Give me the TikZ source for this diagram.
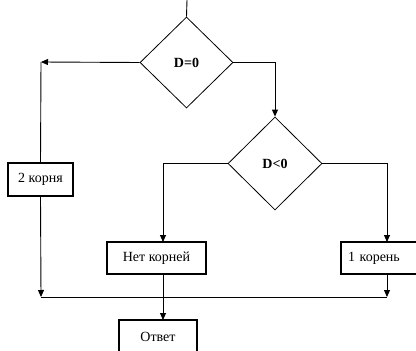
\documentclass[tikz,border=0pt]{standalone}
\usepackage{fontspec}
\setmainfont{Liberation Serif}
\usetikzlibrary{shapes.geometric,arrows.meta}
\begin{document}
\begin{tikzpicture}[x=1pt,y=-1pt,
  cond/.style={draw,diamond,inner sep=0pt,line width=0.8pt,font=\fontsize{14}{16}\selectfont\bfseries},
  blk/.style={draw,rectangle,line width=1.2pt,inner sep=0pt,font=\fontsize{14}{16}\selectfont},
  arr/.style={line width=0.9pt,-{Triangle[length=7pt,width=6pt]}},
  ln/.style={line width=0.9pt}]
\useasboundingbox (0,0) rectangle (416,351);
\node[cond,minimum width=93pt,minimum height=91pt] (d1) at (186.5,62.5) {D=0};
\node[cond,minimum width=94pt,minimum height=93pt] (d2) at (275,163.5) {D<0};
\node[blk,minimum width=65pt,minimum height=33pt] (b2) at (40.5,179.5) {2 корня};
\node[blk,minimum width=99pt,minimum height=32pt] (b0) at (156.5,258) {Нет корней};
\node[blk,minimum width=90pt,minimum height=32pt,text width=76pt,align=left] (b1) at (386,258) {1 корень};
\node[blk,minimum width=78pt,minimum height=34pt] (ans) at (158,337) {Ответ};
\coordinate (top) at (187,0);
\coordinate (cL) at (41,62);
\coordinate (jL) at (41,297);
\coordinate (jR) at (387,297);
\coordinate (b0s) at (163,274);
\coordinate (ansn) at (163,320);
\coordinate (b0n) at (163,242);
\coordinate (b1n) at (387,242);
\coordinate (b1s) at (387,274);
\draw[ln] (top) -- (d1.north);
\draw[arr] (d1.west) -- (cL);
\draw[ln] (cL) -- (b2.north);
\draw[arr] (b2.south) -- (jL);
\draw[arr] (d1.east) -| (d2.north);
\draw[arr] (d2.west) -| (b0n);
\draw[arr] (d2.east) -| (b1n);
\draw[arr] (b1s) -- (jR);
\draw[ln] (jL) -- (jR);
\draw[arr] (b0s) -- (ansn);
\end{tikzpicture}
\end{document}
